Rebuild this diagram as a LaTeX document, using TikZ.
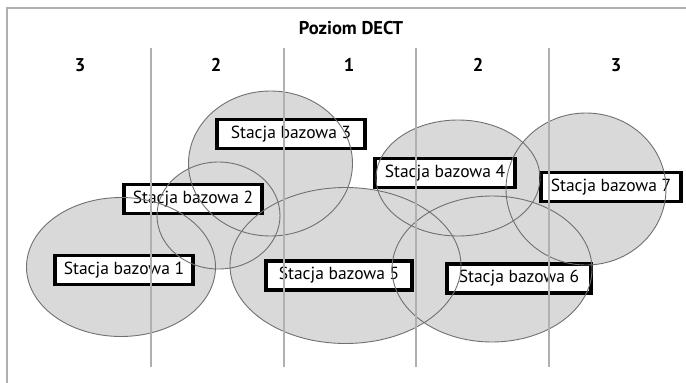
\documentclass[tikz,border=0pt]{standalone}
\usepackage{fontspec}
\setmainfont{PT Sans}
\begin{document}
\begin{tikzpicture}[x=1pt,y=-1pt,
  cellfill/.style={fill=cellgray},
  celledge/.style={draw=edgegray,line width=0.9pt},
  zoneline/.style={draw=linegray,line width=1.6pt},
  basebox/.style={draw=black,line width=3.2pt,fill=white,inner sep=0pt,
    minimum height=29pt,font=\fontsize{17.5}{20}\selectfont},
  hdr/.style={font=\bfseries\fontsize{18.5}{21}\selectfont,inner sep=0pt}]
\definecolor{cellgray}{HTML}{D9D9D9}
\definecolor{edgegray}{HTML}{707070}
\definecolor{linegray}{HTML}{B0B0B0}
\useasboundingbox (0,0) rectangle (686,383);
% ellipse fills
\fill[cellfill] (121,267) ellipse [x radius=94.5,y radius=69.5];
\fill[cellfill] (218.5,215.5) ellipse [x radius=61.5,y radius=53.5];
\fill[cellfill] (270.5,163.5) ellipse [x radius=82,y radius=72.5];
\fill[cellfill] (345.5,265.5) ellipse [x radius=115.5,y radius=78];
\fill[cellfill] (458,178) ellipse [x radius=82,y radius=58];
\fill[cellfill] (586,189) ellipse [x radius=80,y radius=76];
\fill[cellfill] (492,269) ellipse [x radius=100,y radius=73];
% boxes
\node[basebox,minimum width=138pt] (b1) at (124,270) {Stacja bazowa 1};
\node[basebox,minimum width=138pt] (b2) at (193,199) {Stacja bazowa 2};
\node[basebox,minimum width=148pt] (b3) at (291,134) {Stacja bazowa 3};
\node[basebox,minimum width=140pt] (b4) at (445,173) {Stacja bazowa 4};
\node[basebox,minimum width=146pt] (b5) at (339,275.5) {Stacja bazowa 5};
\node[basebox,minimum width=144pt] (b6) at (519,278.5) {Stacja bazowa 6};
\node[basebox,minimum width=140pt] (b7) at (611,187) {Stacja bazowa 7};
% ellipse outlines
\draw[celledge] (121,267) ellipse [x radius=94.5,y radius=69.5];
\draw[celledge] (218.5,215.5) ellipse [x radius=61.5,y radius=53.5];
\draw[celledge] (270.5,163.5) ellipse [x radius=82,y radius=72.5];
\draw[celledge] (345.5,265.5) ellipse [x radius=115.5,y radius=78];
\draw[celledge] (458,178) ellipse [x radius=82,y radius=58];
\draw[celledge] (586,189) ellipse [x radius=80,y radius=76];
\draw[celledge] (492,269) ellipse [x radius=100,y radius=73];
% frame
\draw[zoneline] (7,383) -- (7,8) -- (686,8);
% zone lines
\coordinate (l1t) at (151,48); \coordinate (l1b) at (151,367);
\coordinate (l2t) at (284,48); \coordinate (l2b) at (284,367);
\coordinate (l3t) at (416,48); \coordinate (l3b) at (416,367);
\coordinate (l4t) at (549,48); \coordinate (l4b) at (549,367);
\draw[zoneline] (l1t) -- (l1b);
\draw[zoneline] (l2t) -- (l2b);
\draw[zoneline] (l3t) -- (l3b);
\draw[zoneline] (l4t) -- (l4b);
% headers
\node[hdr] (title) at (351,28) {Poziom DECT};
\node[hdr] (z1) at (80,65) {3};
\node[hdr] (z2) at (216,65) {2};
\node[hdr] (z3) at (349,65) {1};
\node[hdr] (z4) at (478,65) {2};
\node[hdr] (z5) at (616,65) {3};
\end{tikzpicture}
\end{document}
